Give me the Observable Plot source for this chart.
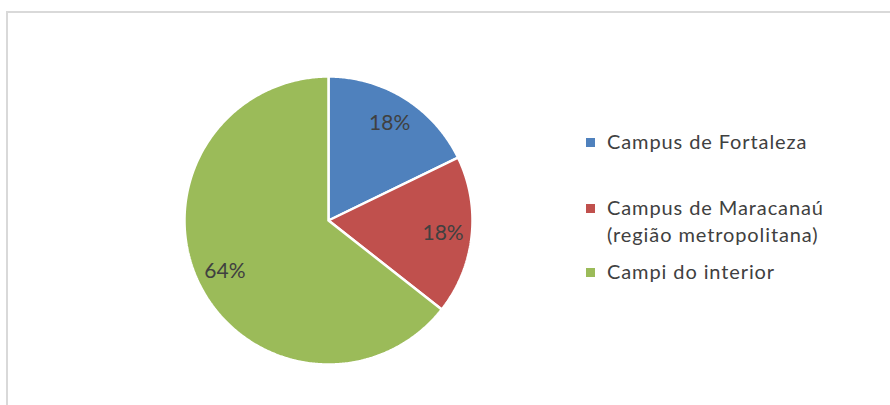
<!DOCTYPE html>
<html>
<head>
<meta charset="utf-8">
<script src="https://cdn.jsdelivr.net/npm/d3@7"></script>
<script src="https://cdn.jsdelivr.net/npm/@observablehq/plot@0.6"></script>
<style>
  html, body { margin: 0; padding: 0; background: #fff; }
  #wrap { position: relative; width: 890px; height: 405px; overflow: hidden; font-family: Lato, "Open Sans", sans-serif; }
  #frame { position: absolute; left: 6px; top: 11px; width: 1000px; height: 1000px; border-top: 2px solid #d9d9d9; border-left: 2px solid #d9d9d9; box-sizing: border-box; }
  #chart { position: absolute; left: 0; top: 0; }
  #legend { position: absolute; left: 586px; top: 0; color: #404040; font-size: 20px; letter-spacing: 0.9px; }
  .item { position: absolute; left: 0; white-space: nowrap; }
  .sw { position: absolute; left: 0; width: 9px; height: 9px; }
  .lbl { position: absolute; left: 21px; line-height: 27px; }
</style>
</head>
<body>
<div id="wrap">
  <div id="frame"></div>
  <div id="chart"></div>
  <div id="legend"></div>
</div>
<script>
const categories = ["Campus de Fortaleza", "Campus de Maracanaú (região metropolitana)", "Campi do interior"];
const legendLines = [["Campus de Fortaleza"], ["Campus de Maracanaú", "(região metropolitana)"], ["Campi do interior"]];
const values = [17.8, 17.8, 64.4];
const labels = ["18%", "18%", "64%"];
const colors = ["#4f81bd", "#c0504d", "#9bbb59"];

const data = categories.map((c, i) => ({category: c, value: values[i], label: labels[i]}));
const arcs = d3.pie().value(d => d.value).sort(null)(data);

// polygon points on unit circle for each slice (angle measured clockwise from top)
const pts = [];
arcs.forEach(a => {
  const n = Math.max(2, Math.ceil((a.endAngle - a.startAngle) / 0.01));
  pts.push({category: a.data.category, x: 0, y: 0});
  for (let k = 0; k <= n; k++) {
    const t = a.startAngle + (a.endAngle - a.startAngle) * k / n;
    pts.push({category: a.data.category, x: Math.sin(t), y: Math.cos(t)});
  }
  pts.push({category: a.data.category, x: 0, y: 0});
});
const labelPts = arcs.map(a => {
  const m = (a.startAngle + a.endAngle) / 2;
  return {label: a.data.label, x: 0.8 * Math.sin(m), y: 0.8 * Math.cos(m)};
});

const cx = 328, cy = 220, r = 144;
const plot = Plot.plot({
  width: 890,
  height: 405,
  margin: 0,
  x: {domain: [-1, 1], range: [cx - r, cx + r], axis: null},
  y: {domain: [-1, 1], range: [cy + r, cy - r], axis: null},
  color: {domain: categories, range: colors},
  style: {background: "transparent", overflow: "visible"},
  marks: [
    Plot.line(pts, {x: "x", y: "y", z: "category", fill: "category", stroke: "white", strokeWidth: 2.5, strokeLinejoin: "miter", curve: "linear"}),
    Plot.text(labelPts, {x: "x", y: "y", text: "label", fill: "#404040", fontSize: 21, fontFamily: "Lato, 'Open Sans', sans-serif"})
  ]
});
document.getElementById("chart").appendChild(plot);

// legend
const legend = document.getElementById("legend");
const tops = [128, 194, 258];
legendLines.forEach((lines, i) => {
  const item = document.createElement("div");
  item.className = "item";
  item.style.top = tops[i] + "px";
  const sw = document.createElement("div");
  sw.className = "sw";
  sw.style.background = colors[i];
  sw.style.top = "10px";
  item.appendChild(sw);
  const lb = document.createElement("div");
  lb.className = "lbl";
  lb.innerHTML = lines.join("<br>");
  item.appendChild(lb);
  legend.appendChild(item);
});
</script>
</body>
</html>
